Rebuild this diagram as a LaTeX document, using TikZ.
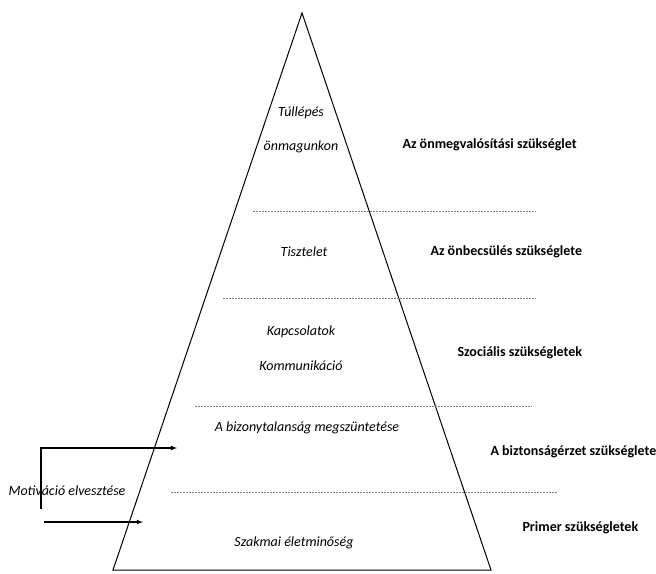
\documentclass[tikz,border=0pt]{standalone}
\usepackage{fontspec}
\setmainfont{Carlito}
\begin{document}
\begin{tikzpicture}[>=latex, x=1pt, y=-1pt, font=\fontsize{14}{17}\selectfont,
  lvl/.style={font=\fontsize{14}{17}\selectfont\itshape},
  need/.style={font=\fontsize{14}{17}\selectfont\bfseries, anchor=west},
  sep/.style={dash pattern=on 2pt off 1pt, gray, line width=.6pt}]
  \useasboundingbox (0,0) rectangle (656,573);

  \draw[line width=1pt](302,13)--(113,570)--(491,570)--cycle;
  \draw[sep](253,211)--(536,211);
  \draw[sep](223,298)--(536,298);
  \draw[sep](195,406)--(532,406);
  \draw[sep](171,492)--(557,492);

  \node[lvl] (tul) at (301,113) {Túllépés};
  \node[lvl] (onm) at (301,147) {önmagunkon};
  \node[lvl] (tisz) at (304,252) {Tisztelet};
  \node[lvl] (kapcs) at (301,332) {Kapcsolatok};
  \node[lvl] (komm) at (301,366) {Kommunikáció};
  \node[lvl] (biz) at (307,428) {A bizonytalanság megszüntetése};
  \node[lvl] (szak) at (294,543) {Szakmai életminőség};

  \node[need] (onmegv) at (399,145) {Az önmegvalósítási szükséglet};
  \node[need] (onbecs) at (427,252) {Az önbecsülés szükséglete};
  \node[need] (szoc) at (454,353) {Szociális szükségletek};
  \node[need] (bizt) at (487,452) {A biztonságérzet szükséglete};
  \node[need] (prim) at (519,528) {Primer szükségletek};

  \node[lvl] (motiv) at (67,491) {Motiváció elvesztése};
  \coordinate (vtop) at (41,448);
  \coordinate (vbot) at (41,509);
  \coordinate (up) at (177,448);
  \coordinate (lowstart) at (44,522);
  \coordinate (low) at (143,522);
  \draw[->, line width=1.1pt](vbot)--(vtop)--(up);
  \draw[->, line width=1.1pt](lowstart)--(low);
\end{tikzpicture}
\end{document}
